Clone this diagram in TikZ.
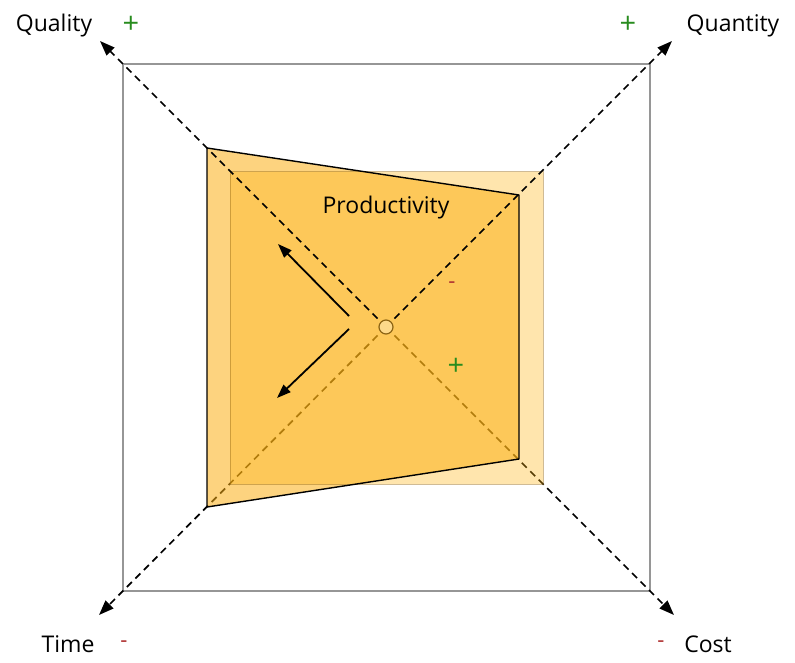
\documentclass[tikz,border=0pt]{standalone}
\usepackage{fontspec}
\setmainfont{Open Sans}
\usetikzlibrary{arrows.meta}
\definecolor{trapfill}{RGB}{251,175,22}
\definecolor{sqfill}{RGB}{255,180,15}
\definecolor{sqdraw}{RGB}{150,105,20}
\definecolor{plusgreen}{RGB}{40,140,30}
\definecolor{minusred}{RGB}{175,50,50}
\definecolor{outergray}{RGB}{150,150,150}
\definecolor{dotfill}{RGB}{253,217,138}
\definecolor{dotdraw}{RGB}{140,100,20}
\tikzset{
  axisline/.style={dashed, dash pattern=on 7pt off 5pt, line width=1.7pt, black},
  axistip/.style={-{Triangle[length=15pt,width=11pt]}},
  lbl/.style={font=\fontsize{23}{25}\selectfont, text=black, inner sep=0pt},
  plus/.style={font=\fontsize{29}{29}\selectfont, text=plusgreen, inner sep=0pt},
  minus/.style={font=\fontsize{22}{22}\selectfont, text=minusred, inner sep=0pt},
  movearrow/.style={line width=1.8pt, -{Triangle[length=14pt,width=10pt]}},
}
\begin{document}
\begin{tikzpicture}[x=1pt,y=-1pt]
\useasboundingbox (0,0) rectangle (795,663);
% key points
\coordinate (c) at (386,327);
\coordinate (ul) at (100,41);
\coordinate (ur) at (672,41);
\coordinate (ll) at (99,615);
\coordinate (lr) at (674,615);
% outer square
\draw[outergray, line width=1.3pt] (123,64) rectangle (650,591);
% lower diagonals (behind fills)
\draw[axisline, axistip] (c) -- (ll);
\draw[axisline, axistip] (c) -- (lr);
% trapezoid fill
\fill[trapfill, fill opacity=0.55] (207,148) -- (519,195) -- (519,459) -- (207,507) -- cycle;
% light square
\fill[sqfill, fill opacity=0.34] (230,172) rectangle (543,484);
\draw[sqdraw, draw opacity=0.45, line width=1pt] (230,172) rectangle (543,484);
% trapezoid border
\draw[black, line width=1.4pt, line join=round] (207,148) -- (519,195) -- (519,459) -- (207,507) -- cycle;
% upper diagonals
\draw[axisline, axistip] (c) -- (ul);
\draw[axisline, axistip] (c) -- (ur);
% center dot
\node[circle, draw=dotdraw, fill=dotfill, line width=1.2pt, minimum size=14pt, inner sep=0pt] (dot) at (c) {};
% movement arrows
\coordinate (a1s) at (349,316);
\coordinate (a1e) at (278,244);
\coordinate (a2s) at (349,329);
\coordinate (a2e) at (277,398);
\draw[movearrow] (a1s) -- (a1e);
\draw[movearrow] (a2s) -- (a2e);
% labels
\node[lbl] (quality) at (54,26) {Quality};
\node[lbl] (quantity) at (733,26) {Quantity};
\node[lbl] (time) at (68,644) {Time};
\node[lbl] (cost) at (708,644) {Cost};
\node[lbl] (prod) at (386,208) {Productivity};
\node[plus] (p1) at (131,25) {+};
\node[plus] (p2) at (628,25) {+};
\node[plus] (p3) at (456,367) {+};
\node[minus] (m1) at (124,644) {-};
\node[minus] (m2) at (661,644) {-};
\node[minus] (m3) at (452,285) {-};
\end{tikzpicture}
\end{document}
